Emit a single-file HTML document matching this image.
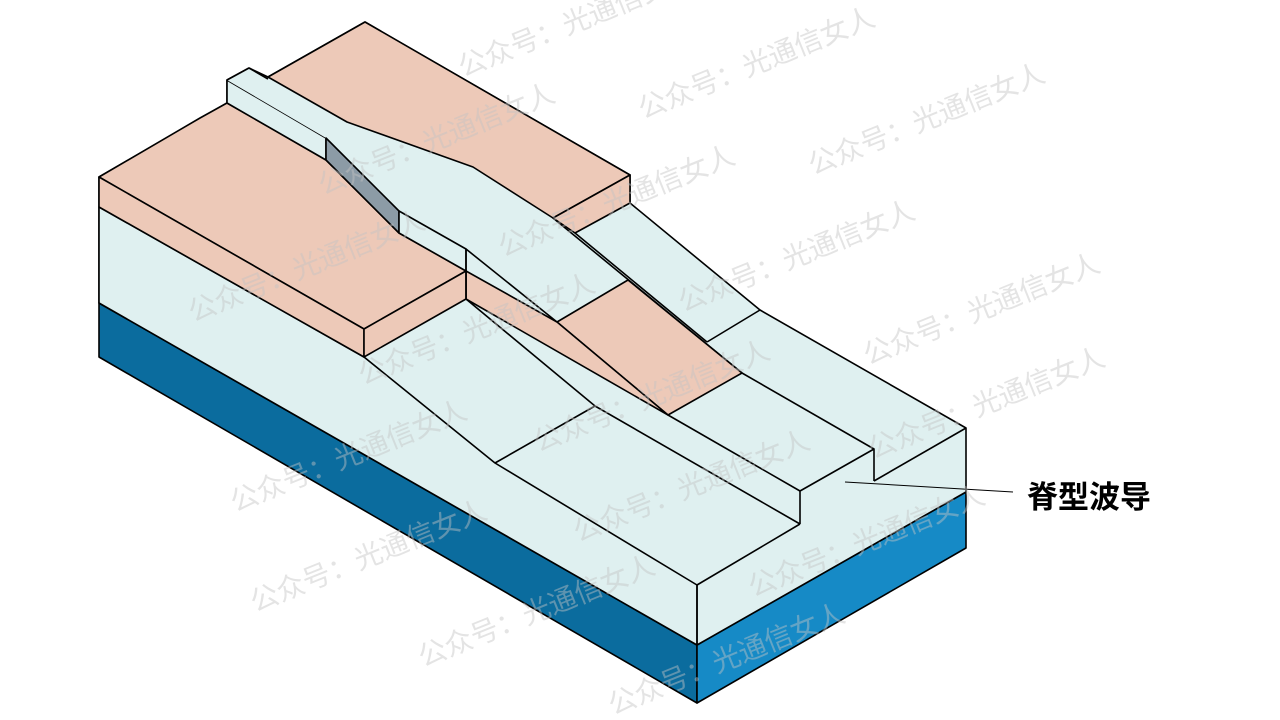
<!DOCTYPE html>
<html><head><meta charset="utf-8"><style>
html,body{margin:0;padding:0;background:#fff;}
svg{display:block;}
</style></head><body>
<svg width="1280" height="720" viewBox="0 0 1280 720" xmlns="http://www.w3.org/2000/svg">
<g stroke="#000" stroke-width="1.6" stroke-linejoin="round">
<polygon points="99,303 697,645 697,703 99,357" fill="#0b6c9e"/>
<polygon points="697,645 966,492 966,548 697,703" fill="#168ac6"/>
<polygon points="99,177 227,103 227,80 249,68 268,77 365,22 630,175 630,203 760,310 966,428 966,492 697,645 99,303" fill="#dff0f0"/>
<polygon points="99,207 364,357 495,463 697,585 697,645 99,303" fill="#dff0f0"/>
<line x1="697" y1="585" x2="800" y2="524"/>
<line x1="874" y1="481" x2="966" y2="428"/>
<line x1="697" y1="585" x2="697" y2="645"/>
<polyline points="800,524 800,491 874,449 874,481" fill="none"/>
<line x1="595" y1="406" x2="800" y2="524"/>
<line x1="668" y1="415" x2="800" y2="491"/>
<line x1="742" y1="373" x2="874" y2="449"/>
<line x1="495" y1="463" x2="595" y2="406"/>
<line x1="466" y1="299" x2="595" y2="406"/>
<line x1="707" y1="342" x2="760" y2="310"/>
<line x1="575" y1="233" x2="707" y2="342"/>
<line x1="553" y1="218" x2="742" y2="373"/>
<polygon points="557,322 628,280 742,373 668,415" fill="#edc9b8"/>
<polygon points="466,271 557,322 668,415 466,299" fill="#edc9b8"/>
<line x1="466" y1="249" x2="557" y2="322"/>
<polygon points="99,177 200,118 227,103 326,160 399,233 466,271 364,329" fill="#edc9b8"/>
<polygon points="99,177 364,329 364,357 99,207" fill="#edc9b8"/>
<polygon points="364,329 466,271 466,299 364,357" fill="#edc9b8"/>
<polygon points="227,80 326,138 326,160 227,103" fill="#dff0f0"/>
<polygon points="227,80 249,68 268,79 347,123 326,138" fill="#dff0f0" stroke="none"/>
<line x1="227" y1="80" x2="249" y2="68"/>
<polygon points="326,138 399,211 399,233 326,160" fill="#8c9ba6"/>
<polygon points="399,211 466,249 466,271 399,233" fill="#dff0f0"/>
<line x1="466" y1="249" x2="466" y2="299"/>
<polygon points="268,77 365,22 630,175 553,218 473,167 347,122" fill="#edc9b8"/>
<polygon points="553,218 630,175 630,203 575,233" fill="#edc9b8"/>
<line x1="249" y1="68" x2="268" y2="79"/>
</g>
<line x1="845" y1="482" x2="1013" y2="492" stroke="#000" stroke-width="1"/>
<text x="1027" y="508" font-family="'Liberation Sans','Noto Sans CJK SC',sans-serif" font-size="31" font-weight="bold" fill="#000">脊型波导</text>
<g font-family="'Liberation Sans','Noto Sans CJK SC',sans-serif" font-size="28" fill="#c4c4c4" fill-opacity="0.45" text-anchor="middle">
<text transform="translate(580,30) rotate(-22)">公众号：光通信女人</text>
<text transform="translate(760,72) rotate(-22)">公众号：光通信女人</text>
<text transform="translate(930,128) rotate(-22)">公众号：光通信女人</text>
<text transform="translate(440,148) rotate(-22)">公众号：光通信女人</text>
<text transform="translate(620,210) rotate(-22)">公众号：光通信女人</text>
<text transform="translate(800,265) rotate(-22)">公众号：光通信女人</text>
<text transform="translate(985,318) rotate(-22)">公众号：光通信女人</text>
<text transform="translate(310,275) rotate(-22)">公众号：光通信女人</text>
<text transform="translate(480,338) rotate(-22)">公众号：光通信女人</text>
<text transform="translate(655,405) rotate(-22)">公众号：光通信女人</text>
<text transform="translate(990,412) rotate(-22)">公众号：光通信女人</text>
<text transform="translate(352,465) rotate(-22)">公众号：光通信女人</text>
<text transform="translate(695,495) rotate(-22)">公众号：光通信女人</text>
<text transform="translate(870,550) rotate(-22)">公众号：光通信女人</text>
<text transform="translate(372,565) rotate(-22)">公众号：光通信女人</text>
<text transform="translate(540,620) rotate(-22)">公众号：光通信女人</text>
<text transform="translate(730,668) rotate(-22)">公众号：光通信女人</text>
</g>
</svg>
</body></html>
